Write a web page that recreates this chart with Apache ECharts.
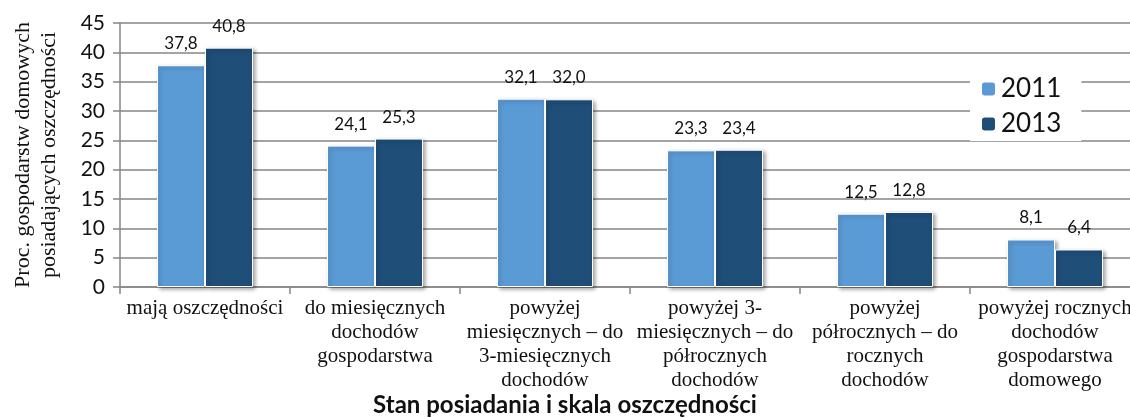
<!DOCTYPE html>
<html>
<head>
<meta charset="utf-8">
<script src="https://cdn.jsdelivr.net/npm/echarts@6/dist/echarts.min.js"></script>
<style>
  html, body { margin: 0; padding: 0; background: #fff; }
  #chart { width: 1130px; height: 418px; }
</style>
</head>
<body>
<div id="chart"></div>
<script>
// kategorie (podpisy osi X, z łamaniem linii jak w oryginale)
const categories = [
  'mają oszczędności',
  'do miesięcznych\ndochodów\ngospodarstwa',
  'powyżej\nmiesięcznych – do\n3-miesięcznych\ndochodów',
  'powyżej 3-\nmiesięcznych – do\npółrocznych\ndochodów',
  'powyżej\npółrocznych – do\nrocznych\ndochodów',
  'powyżej rocznych\ndochodów\ngospodarstwa\ndomowego'
]
const values2011 = [37.8, 24.1, 32.1, 23.3, 12.5, 8.1]
const values2013 = [40.8, 25.3, 32.0, 23.4, 12.8, 6.4]
const seriesNames = ['2011', '2013']

const sans = 'Lato, "Open Sans", sans-serif'
const serif = '"Liberation Serif", "DejaVu Serif", serif'

let myChart = echarts.init(document.getElementById('chart'))

const barStyle = (color) => ({
  color: color,
  borderColor: '#fff',
  borderWidth: 1,
  shadowBlur: 4,
  shadowColor: 'rgba(0,0,0,0.35)',
  shadowOffsetX: 2,
  shadowOffsetY: 2
})

const labelCfg = {
  show: true,
  position: 'top',
  distance: 13,
  fontFamily: sans,
  fontSize: 17,
  color: '#111',
  formatter: p => p.value.toFixed(1).replace('.', ',')
}

myChart.setOption({
  animation: false,
  title: {
    text: 'Stan posiadania i skala oszczędności',
    left: 'center',
    top: 388,
    textStyle: { fontFamily: sans, fontSize: 24, fontWeight: 'bold', color: '#111' }
  },
  legend: {
    orient: 'vertical',
    left: 970,
    top: 72,
    itemWidth: 15,
    itemHeight: 15,
    itemGap: 9,
    backgroundColor: '#fff',
    padding: [4, 20, 4, 10],
    textStyle: { fontFamily: sans, fontSize: 26, color: '#111' },
    data: seriesNames
  },
  grid: {
    left: 120,
    top: 23,
    width: 1020,
    bottom: 131,
    outerBoundsMode: 'none'
  },
  xAxis: {
    type: 'category',
    data: categories,
    axisLine: { lineStyle: { color: '#868686', width: 1.5 } },
    axisTick: { show: true, length: 7, lineStyle: { color: '#868686', width: 1.5 } },
    axisLabel: {
      interval: 0,
      margin: 9,
      fontFamily: serif,
      fontSize: 21,
      lineHeight: 24,
      color: '#111'
    }
  },
  yAxis: {
    type: 'value',
    min: 0,
    max: 45,
    interval: 5,
    name: 'Proc. gospodarstw domowych\nposiadających oszczędności',
    nameLocation: 'middle',
    nameGap: 58,
    nameTextStyle: { fontFamily: serif, fontSize: 22, lineHeight: 26, color: '#111' },
    axisLine: { show: true, lineStyle: { color: '#868686', width: 1.5 } },
    axisTick: { show: true, length: 7, lineStyle: { color: '#868686', width: 1.5 } },
    axisLabel: { fontFamily: sans, fontSize: 21, color: '#111', margin: 15 },
    splitLine: { show: true, lineStyle: { color: '#868686', width: 1.5 } }
  },
  series: [
    {
      name: seriesNames[0],
      type: 'bar',
      barWidth: 48,
      barGap: '0%',
      data: values2011,
      itemStyle: barStyle('#5b9bd5'),
      label: labelCfg
    },
    {
      name: seriesNames[1],
      type: 'bar',
      barWidth: 48,
      data: values2013,
      itemStyle: barStyle('#1f4e79'),
      label: labelCfg
    }
  ]
})
</script>
</body>
</html>
